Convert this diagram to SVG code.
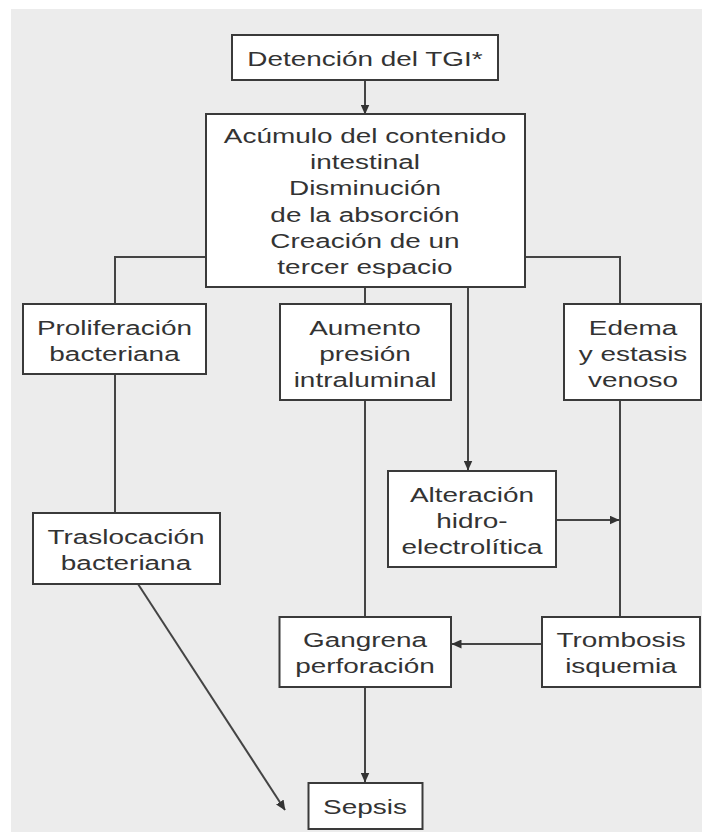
<svg xmlns="http://www.w3.org/2000/svg" width="702" height="832" viewBox="0 0 702 832">
<style>
.box{fill:#ffffff;stroke:#3a3a3a;stroke-width:2}
.t{font-family:"Liberation Sans",Arial,sans-serif;font-size:21px;fill:#333333;text-anchor:middle}
.c{fill:none;stroke:#444444;stroke-width:2}
.a{marker-end:url(#arr)}
</style>
<defs>
<marker id="arr" markerUnits="userSpaceOnUse" markerWidth="10" markerHeight="9" refX="9.5" refY="4.5" orient="auto">
<path d="M0,0 L10,4.5 L0,9 z" fill="#333333"/>
</marker>
</defs>
<rect x="11" y="9" width="691" height="823" fill="#ececec"/>
<g id="connectors">
<line class="c a" x1="365" y1="80" x2="365" y2="114"/>
<polyline class="c" points="206,257 115,257 115,304"/>
<line class="c" x1="365" y1="287" x2="365" y2="304"/>
<line class="c a" x1="468" y1="287" x2="468" y2="470"/>
<polyline class="c" points="525,257 620,257 620,304"/>
<line class="c" x1="115" y1="374" x2="115" y2="513"/>
<line class="c" x1="365" y1="400" x2="365" y2="617"/>
<line class="c" x1="620" y1="400" x2="620" y2="617"/>
<line class="c a" x1="556" y1="520" x2="619" y2="520"/>
<line class="c a" x1="542" y1="644" x2="452" y2="644"/>
<line class="c a" x1="365" y1="687" x2="365" y2="782"/>
<line class="c a" x1="138" y1="584" x2="285" y2="810"/>
</g>
<g id="n1">
<rect class="box" x="232" y="35" width="266" height="45"/>
<text class="t" transform="translate(365 66) scale(1.33 1)"><tspan x="0" y="0">Detención del TGI*</tspan></text>
</g>
<g id="n2">
<rect class="box" x="206" y="114" width="319" height="173"/>
<text class="t" transform="translate(365 143) scale(1.33 1)"><tspan x="0" y="0">Acúmulo del contenido</tspan><tspan x="0" y="26.2">intestinal</tspan><tspan x="0" y="52.4">Disminución</tspan><tspan x="0" y="78.6">de la absorción</tspan><tspan x="0" y="104.8">Creación de un</tspan><tspan x="0" y="131">tercer espacio</tspan></text>
</g>
<g id="n3">
<rect class="box" x="23" y="304" width="183" height="70"/>
<text class="t" transform="translate(114.5 335) scale(1.33 1)"><tspan x="0" y="0">Proliferación</tspan><tspan x="0" y="26">bacteriana</tspan></text>
</g>
<g id="n4">
<rect class="box" x="280" y="304" width="171" height="96"/>
<text class="t" transform="translate(365 335) scale(1.33 1)"><tspan x="0" y="0">Aumento</tspan><tspan x="0" y="26">presión</tspan><tspan x="0" y="52">intraluminal</tspan></text>
</g>
<g id="n5">
<rect class="box" x="564" y="304" width="137" height="96"/>
<text class="t" transform="translate(633 335) scale(1.33 1)"><tspan x="0" y="0">Edema</tspan><tspan x="0" y="26">y estasis</tspan><tspan x="0" y="52">venoso</tspan></text>
</g>
<g id="n6">
<rect class="box" x="388" y="471" width="168" height="96"/>
<text class="t" transform="translate(472 502) scale(1.33 1)"><tspan x="0" y="0">Alteración</tspan><tspan x="0" y="26">hidro-</tspan><tspan x="0" y="52">electrolítica</tspan></text>
</g>
<g id="n7">
<rect class="box" x="33" y="513" width="187" height="71"/>
<text class="t" transform="translate(126 543.5) scale(1.33 1)"><tspan x="0" y="0">Traslocación</tspan><tspan x="0" y="26.5">bacteriana</tspan></text>
</g>
<g id="n8">
<rect class="box" x="279.5" y="617" width="171.5" height="70"/>
<text class="t" transform="translate(365 647) scale(1.33 1)"><tspan x="0" y="0">Gangrena</tspan><tspan x="0" y="26.5">perforación</tspan></text>
</g>
<g id="n9">
<rect class="box" x="542" y="617" width="158" height="70"/>
<text class="t" transform="translate(621 647) scale(1.33 1)"><tspan x="0" y="0">Trombosis</tspan><tspan x="0" y="26.5">isquemia</tspan></text>
</g>
<g id="n10">
<rect class="box" x="308.5" y="783" width="114" height="46"/>
<text class="t" transform="translate(365 813.5) scale(1.33 1)"><tspan x="0" y="0">Sepsis</tspan></text>
</g>
</svg>
